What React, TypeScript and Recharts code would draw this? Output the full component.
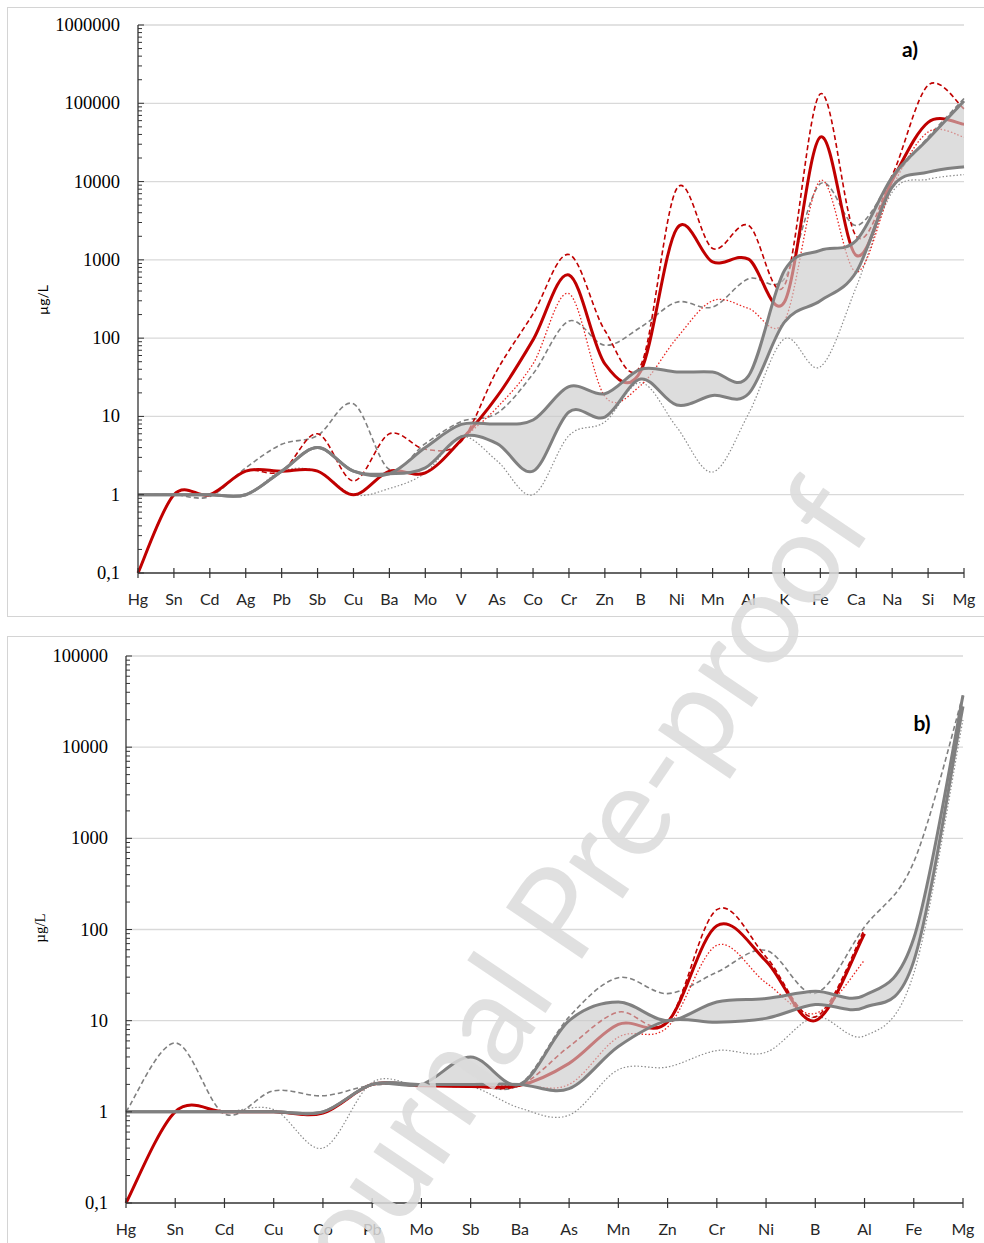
import React from 'react';
import { ComposedChart, Line, Area, XAxis, YAxis, CartesianGrid } from 'recharts';

// ---------- Panel a) ----------
const catsA = ['Hg', 'Sn', 'Cd', 'Ag', 'Pb', 'Sb', 'Cu', 'Ba', 'Mo', 'V', 'As', 'Co', 'Cr', 'Zn', 'B', 'Ni', 'Mn', 'Al', 'K', 'Fe', 'Ca', 'Na', 'Si', 'Mg'];
const redSolidA = [0.1, 1, 1, 2, 2, 2, 1, 2, 1.9, 5, 18, 95, 640, 47, 38, 2500, 940, 1020, 290, 37000, 1140, 10300, 57000, 54000];
const redDashedA = [0.1, 1, 1, 2, 2, 6, 1.5, 6, 3.8, 4.8, 39, 204, 1170, 125, 45, 8100, 1400, 2760, 470, 132000, 2000, 12000, 170000, 85000];
const redDottedA = [0.1, 1, 1, 2, 2, 2, 1, 2, 1.9, 5, 13, 47, 370, 18, 25, 100, 300, 240, 165, 10300, 700, 8500, 43000, 37000];
const greyDashedA = [1, 1, 0.95, 2.2, 4.4, 5.7, 14.5, 2.1, 4.5, 8.6, 11, 35, 165, 81, 138, 288, 250, 575, 575, 9400, 2750, 10700, 37000, 115000];
const greyUpperA = [1, 1, 1, 1, 2, 4, 2, 1.85, 4, 7.9, 8, 9, 24, 19.5, 40, 37, 37, 33, 730, 1320, 1770, 11400, 35000, 107000];
const greyLowerA = [1, 1, 1, 1, 2, 4, 2, 1.85, 2.2, 5.5, 4.5, 2.0, 11.4, 9.8, 30, 14, 18.5, 19.5, 160, 300, 700, 8500, 13200, 15500];
const greyDottedA = [1, 1, 1, 1, 2, 2, 1, 1.2, 1.9, 5.5, 2.7, 1.0, 5.7, 8.5, 27, 7.3, 1.95, 10.8, 98, 43, 450, 7300, 10700, 12300];
const decadesA = [0.1, 1, 10, 100, 1000, 10000, 100000, 1000000];

// ---------- Panel b) ----------
const catsB = ['Hg', 'Sn', 'Cd', 'Cu', 'Co', 'Pb', 'Mo', 'Sb', 'Ba', 'As', 'Mn', 'Zn', 'Cr', 'Ni', 'B', 'Al', 'Fe', 'Mg'];
const redSolidB = [0.1, 1, 1, 1, 0.97, 2, 1.93, 1.9, 1.95, 3.4, 9.1, 9.7, 110, 45, 10, 90, null, null];
const redDashedB = [0.1, 1, 1, 1, 0.97, 2, 1.93, 1.9, 1.95, 5.2, 12.4, 9.7, 165, 50, 11, 100, null, null];
const redDottedB = [0.1, 1, 1, 1, 0.97, 2, 1.93, 1.9, 1.95, 2.0, 6.6, 8.5, 67, 26, 12, 46, null, null];
const greyDashedB = [1, 5.7, 0.95, 1.7, 1.5, 1.96, 2.0, 2.0, 2.0, 11, 29.6, 19.8, 34, 59, 20, 107, 550, 37000];
const greyUpperB = [1, 1, 1, 1, 1, 2, 2, 4, 2, 10, 16, 10, 16, 17.5, 21, 19, 80, 37000];
const greyLowerB = [1, 1, 1, 1, 1, 2, 2, 2, 2, 1.8, 5.2, 10, 9.6, 10.6, 15, 14, 45, 28000];
const greyDottedB = [1, 1, 1, 1.06, 0.4, 2.1, 1.9, 1.9, 1.1, 0.92, 2.9, 3.1, 4.7, 4.5, 11, 6.8, 33, 20000];
const decadesB = [0.1, 1, 10, 100, 1000, 10000, 100000];

// Excel-like smoothed curve (Catmull-Rom as cubic Bezier)
function excelCurve(context: any) {
  let xs: number[] = [];
  let ys: number[] = [];
  let line = NaN;
  return {
    areaStart() { line = 0; },
    areaEnd() { line = NaN; },
    lineStart() { xs = []; ys = []; },
    point(x: number, y: number) { xs.push(+x); ys.push(+y); },
    lineEnd() {
      const n = xs.length;
      if (n > 0) {
        if (line) context.lineTo(xs[0], ys[0]);
        else context.moveTo(xs[0], ys[0]);
        for (let i = 0; i < n - 1; i++) {
          const i0 = Math.max(0, i - 1);
          const i3 = Math.min(n - 1, i + 2);
          const c1x = xs[i] + (xs[i + 1] - xs[i0]) / 6;
          const c1y = ys[i] + (ys[i + 1] - ys[i0]) / 6;
          const c2x = xs[i + 1] - (xs[i3] - xs[i]) / 6;
          const c2y = ys[i + 1] - (ys[i3] - ys[i]) / 6;
          context.bezierCurveTo(c1x, c1y, c2x, c2y, xs[i + 1], ys[i + 1]);
        }
      }
      if (line || (line !== 0 && n === 1)) context.closePath();
      line = 1 - line;
    },
  };
}

function allTicks(decades: number[]) {
  const t: number[] = [];
  decades.forEach((d, i) => {
    t.push(d);
    if (i < decades.length - 1) {
      for (let k = 2; k <= 9; k++) t.push(+(d * k).toPrecision(6));
    }
  });
  return t;
}

const fmt = (v: number) => (v === 0.1 ? '0,1' : String(v));

const makeYTick = (decades: number[]) => (props: any) => {
  const { x, y, payload } = props;
  const v = payload.value;
  const major = decades.includes(v);
  return (
    <g>
      <line x1={x} x2={x + (major ? 6 : 4)} y1={y} y2={y} stroke="#333" strokeWidth={1} />
      {major && (
        <text x={x - 18} y={y} textAnchor="end" dominantBaseline="central"
          fontFamily="'Liberation Serif', 'Times New Roman', serif" fontSize={18.5} fill="#000">
          {fmt(v)}
        </text>
      )}
    </g>
  );
};

const XTick = (props: any) => {
  const { x, y, payload } = props;
  return (
    <g>
      <line x1={x} x2={x} y1={y - 5} y2={y + 5} stroke="#333" strokeWidth={1.2} />
      <text x={x} y={y + 25} textAnchor="middle" dominantBaseline="central"
        fontFamily="Lato, 'Open Sans', sans-serif" fontSize={16} fill="#262626">
        {payload.value}
      </text>
    </g>
  );
};

const GREY = '#808080';
const RED = '#c00000';
const RED_LIGHT = '#e8231f';

function Panel(props: {
  cats: string[]; rs: any[]; rd: any[]; rdt: any[]; gd: number[]; gu: number[]; gl: number[]; gdt: number[];
  decades: number[]; width: number; height: number; margin: any; yWidth: number; xHeight: number;
}) {
  const { cats, decades } = props;
  const data = cats.map((c, i) => ({
    cat: c,
    rs: props.rs[i],
    rd: props.rd[i],
    rdt: props.rdt[i],
    gd: props.gd[i],
    gu: props.gu[i],
    gl: props.gl[i],
    gdt: props.gdt[i],
    band: [props.gl[i], props.gu[i]],
  }));
  const lo = decades[0];
  const hi = decades[decades.length - 1];
  const gridGen = (args: any) => {
    const { yAxis, offset } = args;
    return decades.slice(1).map((d) => {
      if (yAxis && typeof yAxis.scale === 'function') return yAxis.scale(d);
      const f = (Math.log10(d) - Math.log10(lo)) / (Math.log10(hi) - Math.log10(lo));
      return offset.top + offset.height * (1 - f);
    });
  };
  return (
    <ComposedChart width={props.width} height={props.height} data={data} margin={props.margin}>
      <CartesianGrid vertical={false} stroke="#d9d9d9" strokeWidth={1.3}
        horizontalCoordinatesGenerator={gridGen} />
      <XAxis dataKey="cat" type="category" scale="point" padding={{ left: 0, right: 0 }}
        height={props.xHeight} interval={0} tickSize={0} tickMargin={0} tick={<XTick />}
        axisLine={{ stroke: '#333', strokeWidth: 1.3 }} tickLine={false} />
      <YAxis type="number" scale="log" domain={[lo, hi]} allowDataOverflow ticks={allTicks(decades)}
        interval={0} width={props.yWidth} tickSize={0} tickMargin={0} tick={makeYTick(decades)}
        axisLine={{ stroke: '#333', strokeWidth: 1.3 }} tickLine={false} />
      <Line dataKey="gdt" type={excelCurve as any} stroke="#8c8c8c" strokeWidth={1.2} strokeDasharray="1.5 2"
        dot={false} activeDot={false} isAnimationActive={false} zIndex={401} />
      <Line dataKey="gd" type={excelCurve as any} stroke={GREY} strokeWidth={1.6} strokeDasharray="5 3"
        dot={false} activeDot={false} isAnimationActive={false} zIndex={402} />
      <Line dataKey="rdt" type={excelCurve as any} stroke={RED_LIGHT} strokeWidth={1.3} strokeDasharray="1.5 2"
        dot={false} activeDot={false} isAnimationActive={false} zIndex={403} />
      <Line dataKey="rd" type={excelCurve as any} stroke={RED} strokeWidth={1.6} strokeDasharray="5 3"
        dot={false} activeDot={false} isAnimationActive={false} zIndex={404} />
      <Line dataKey="rs" type={excelCurve as any} stroke={RED} strokeWidth={3}
        dot={false} activeDot={false} isAnimationActive={false} zIndex={405} />
      <Area dataKey="band" type={excelCurve as any} stroke="none" fill="#c8c8c8" fillOpacity={0.62}
        dot={false} activeDot={false} isAnimationActive={false} zIndex={406} />
      <Line dataKey="gl" type={excelCurve as any} stroke={GREY} strokeWidth={3}
        dot={false} activeDot={false} isAnimationActive={false} zIndex={407} />
      <Line dataKey="gu" type={excelCurve as any} stroke={GREY} strokeWidth={3}
        dot={false} activeDot={false} isAnimationActive={false} zIndex={408} />
    </ComposedChart>
  );
}

export default function App() {
  return (
    <div style={{ position: 'absolute', left: 0, top: 0, width: 984, height: 1243, background: '#fff', overflow: 'hidden' }}>
      <div style={{ position: 'absolute', left: 7, top: 7, width: 980, height: 610, border: '1px solid #d4d4d4', boxSizing: 'border-box' }} />
      <div style={{ position: 'absolute', left: 7, top: 636, width: 980, height: 620, border: '1px solid #d4d4d4', boxSizing: 'border-box' }} />
      <div style={{ position: 'absolute', left: 0, top: 0 }}>
        <Panel cats={catsA} rs={redSolidA} rd={redDashedA} rdt={redDottedA} gd={greyDashedA}
          gu={greyUpperA} gl={greyLowerA} gdt={greyDottedA} decades={decadesA}
          width={984} height={617} margin={{ top: 25, right: 20, bottom: 4, left: 0 }} yWidth={138} xHeight={40} />
      </div>
      <div style={{ position: 'absolute', left: 0, top: 633 }}>
        <Panel cats={catsB} rs={redSolidB} rd={redDashedB} rdt={redDottedB} gd={greyDashedB}
          gu={greyUpperB} gl={greyLowerB} gdt={greyDottedB} decades={decadesB}
          width={984} height={610} margin={{ top: 23, right: 21, bottom: 10, left: 0 }} yWidth={126} xHeight={30} />
      </div>
      <svg width={984} height={1243} style={{ position: 'absolute', left: 0, top: 0, pointerEvents: 'none' }}>
        <text x={910} y={48} textAnchor="middle" dominantBaseline="central" fontFamily="Lato, sans-serif"
          fontWeight="bold" fontSize={21} fill="#000">a)</text>
        <text x={922} y={722} textAnchor="middle" dominantBaseline="central" fontFamily="Lato, sans-serif"
          fontWeight="bold" fontSize={21} fill="#000">b)</text>
        <text transform="translate(42,300) rotate(-90)" textAnchor="middle" dominantBaseline="central"
          fontFamily="Lato, sans-serif" fontSize={14} fill="#000">µg/L</text>
        <text transform="translate(40,928) rotate(-90)" textAnchor="middle" dominantBaseline="central"
          fontFamily="'Liberation Serif', serif" fontSize={15} fill="#000">µg/L</text>
        <text transform="translate(562,900) rotate(-56)" textAnchor="middle" dominantBaseline="central"
          fontFamily="Lato, sans-serif" fontSize={128} fill="#dadada" fillOpacity={0.85}>Journal Pre-proof</text>
      </svg>
    </div>
  );
}
